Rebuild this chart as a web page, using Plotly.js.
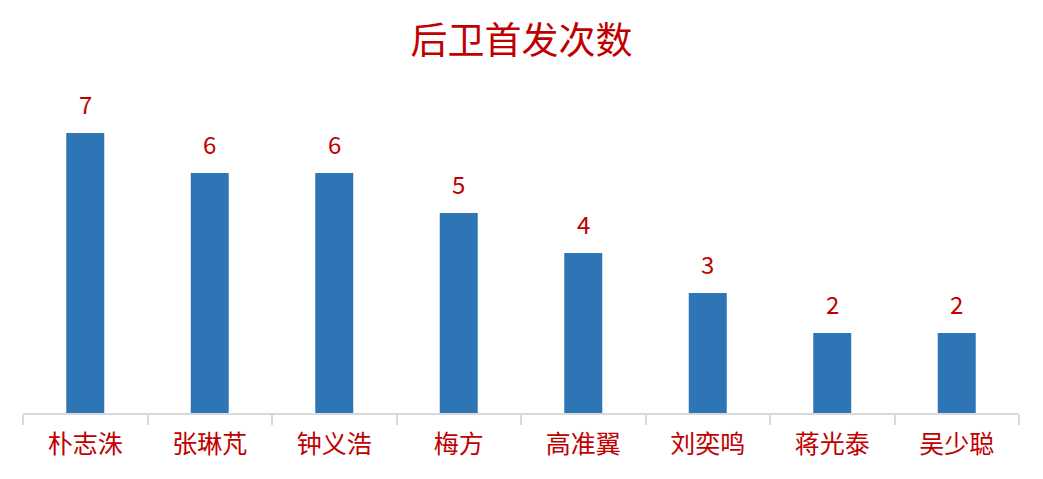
<!DOCTYPE html>
<html>
<head>
<meta charset="utf-8">
<script src="https://cdn.plot.ly/plotly-3.0.1.min.js"></script>
<style>
  html, body { margin: 0; padding: 0; background: #fff; }
  #chart { width: 1043px; height: 479px; }
</style>
</head>
<body>
<div id="chart"></div>
<script>
const players = ['朴志洙', '张琳芃', '钟义浩', '梅方', '高准翼', '刘奕鸣', '蒋光泰', '吴少聪'];
const starts = [7, 6, 6, 5, 4, 3, 2, 2];

const red = '#C00000';
const font = '"Noto Sans CJK SC", "Microsoft YaHei", sans-serif';

const barTrace = {
    type: 'bar',
    x: players,
    y: starts,
    marker: { color: '#2E75B6' },
    hoverinfo: 'x+y',
};

// value labels sit a little above each bar
const labels = players.map((name, i) => ({
    x: name,
    y: starts[i],
    text: String(starts[i]),
    showarrow: false,
    yshift: 30,
    font: { family: font, size: 24, color: red },
}));

const layout = {
    width: 1043,
    height: 479,
    margin: { l: 23, r: 24, t: 93, b: 66 },
    paper_bgcolor: '#fff',
    plot_bgcolor: '#fff',
    bargap: 0.695,
    showlegend: false,
    title: {
        text: '后卫首发次数',
        x: 0.5,
        xanchor: 'center',
        y: 0.915,
        yanchor: 'middle',
        font: { family: font, size: 37, color: red },
    },
    xaxis: {
        type: 'category',
        showline: true,
        linecolor: '#D9D9D9',
        linewidth: 2,
        ticks: 'outside',
        tickson: 'boundaries',
        ticklen: 10,
        tickcolor: '#D9D9D9',
        tickwidth: 2,
        ticklabelstandoff: 8,
        showgrid: false,
        tickfont: { family: font, size: 25, color: red },
    },
    yaxis: {
        range: [0, 8],
        visible: false,
        showgrid: false,
        zeroline: false,
    },
    annotations: labels,
};

Plotly.newPlot('chart', [barTrace], layout, { displayModeBar: false, staticPlot: true });
</script>
</body>
</html>
